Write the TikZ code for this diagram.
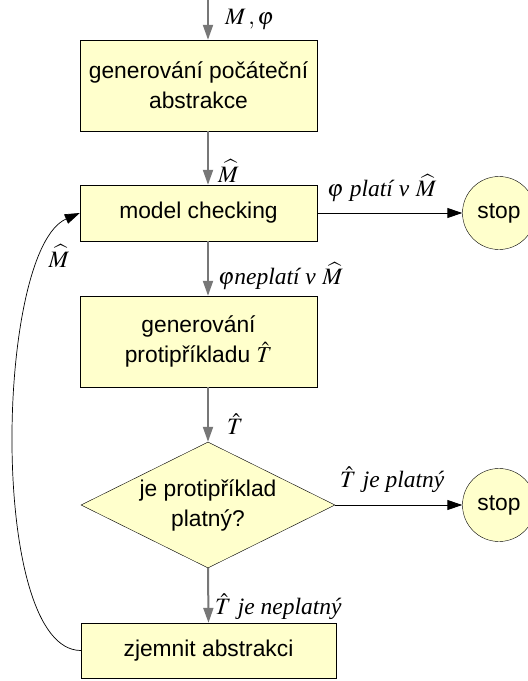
\documentclass[tikz,border=0pt]{standalone}
\usepackage{mathptmx}
\usepackage{fontspec}
\setmainfont{Liberation Sans}
\newfontfamily\tms{Liberation Serif}
\usetikzlibrary{arrows.meta,shapes.geometric}

\definecolor{boxfill}{HTML}{FFFFCC}
\definecolor{linegray}{HTML}{777777}

\newcommand{\lbl}[1]{{\tms\itshape #1}}

\tikzset{
  blok/.style={draw=black, fill=boxfill, rectangle, minimum width=237pt,
    minimum height=91pt, inner sep=0pt, align=center,
    font=\fontsize{22.8}{30}\selectfont},
  volba/.style={draw=black, fill=boxfill, diamond, aspect=2,
    minimum width=254pt, minimum height=126pt, inner sep=0pt, align=center,
    font=\fontsize{22.8}{30}\selectfont},
  konec/.style={draw=black, fill=boxfill, circle, minimum size=73pt,
    inner sep=0pt, font=\fontsize{22.8}{30}\selectfont},
  popis/.style={inner sep=1pt, font=\fontsize{23.5}{26}\selectfont},
  svisla/.style={draw=linegray, line width=2pt},
  vodorovna/.style={draw=black, line width=0.9pt},
}

\begin{document}
\begin{tikzpicture}[x=1pt, y=-1pt, >={Triangle[length=15pt,width=10pt]}]

    %% Background
    \useasboundingbox (0,0) rectangle (528,681);

    %% Blocks
    \node[blok] (init) at (198.5,85.5) {generování počáteční\\abstrakce};
    \node[blok, minimum height=56pt] (mc) at (198.5,213) {model checking};
    \node[blok] (cex) at (198.5,341.5) {generování\\protipříkladu $\hat{T}$};
    \node[volba] (valid) at (208,505) {je protipříklad\\platný?};
    \node[blok, minimum width=255pt, minimum height=55pt] (refine) at (208.5,650.5) {zjemnit abstrakci};
    \node[konec] (stop1) at (499,213) {stop};
    \node[konec] (stop2) at (499,505) {stop};

    %% Main flow
    \coordinate (in) at (208,0);
    \draw[svisla, ->] (in) -- (in |- init.north);
    \draw[svisla, ->] (init.south -| in) -- (mc.north -| in);
    \draw[svisla, ->] (mc.south -| in) -- (cex.north -| in);
    \draw[svisla, ->] (cex.south -| in) -- (valid.north);
    \draw[svisla, ->] (valid.south) -- (refine.north);

    \draw[vodorovna, ->] (mc.east) -- (stop1.west);
    \draw[vodorovna, ->] (valid.east) -- (stop2.west);

    %% Refinement loop
    \draw[vodorovna, line width=0.7pt, ->] (refine.west) .. controls (-12,650) and (-5,250) .. (mc.west);

    %% Labels
    \node[popis, anchor=west] (lin) at (224,20) {$M\,,\varphi$};
    \node[popis, anchor=west] (lm) at (217,171) {$\widehat{M}$};
    \node[popis, anchor=west] (lok) at (326,188) {$\varphi$ \lbl{platí v} $\widehat{M}$};
    \node[popis, anchor=west] (lnok) at (217,276) {$\varphi$\lbl{neplatí v} $\widehat{M}$};
    \node[popis, anchor=west] (lt) at (226,424) {$\hat{T}$};
    \node[popis, anchor=west] (lval) at (339,480) {$\hat{T}$ \lbl{je platný}};
    \node[popis, anchor=west] (linv) at (214,607) {$\hat{T}$ \lbl{je neplatný}};
    \node[popis] (lloop) at (59,256) {$\widehat{M}$};

\end{tikzpicture}
\end{document}
